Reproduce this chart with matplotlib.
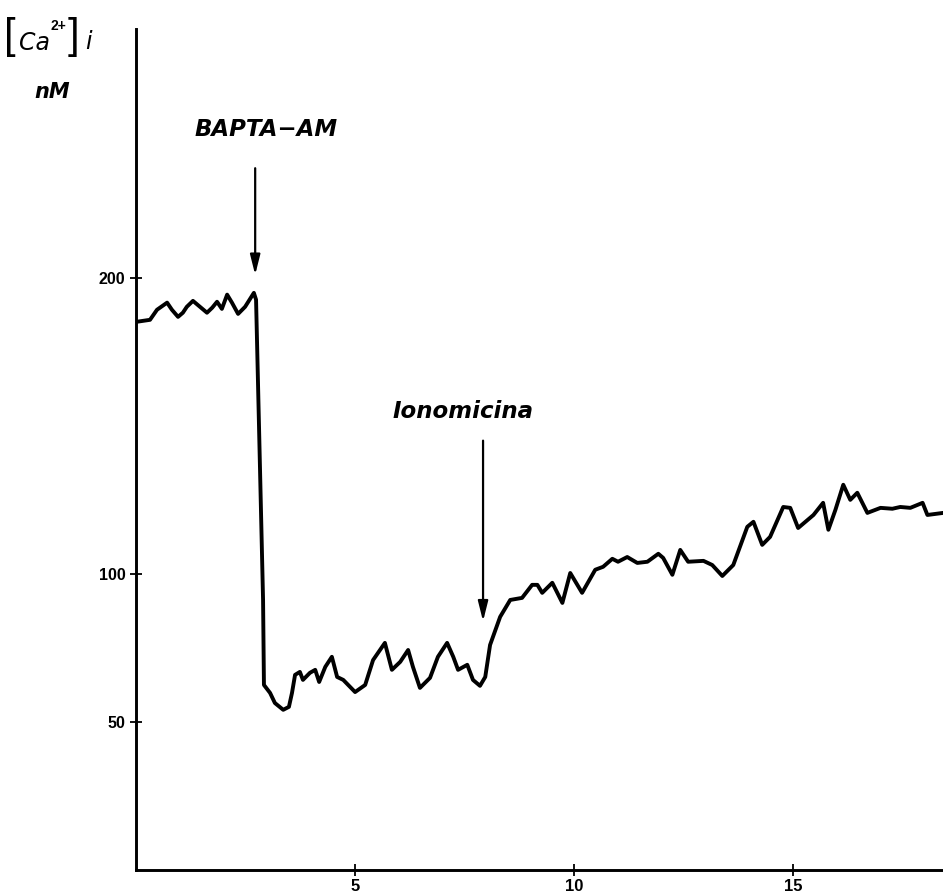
import matplotlib
matplotlib.use("Agg")
import matplotlib.pyplot as plt

plt.rcParams['font.family'] = ['Liberation Sans', 'DejaVu Sans']

# trace: time (min) and [Ca2+]i (nM)
time_min = [
    0.00, 0.32, 0.48, 0.71, 0.82, 0.96, 1.07, 1.16, 1.30, 1.46, 1.62, 1.74,
    1.85, 1.96, 2.08, 2.19, 2.33, 2.49, 2.69, 2.74, 2.90, 2.92,
    3.06, 3.17, 3.36, 3.49, 3.56, 3.63, 3.74, 3.81, 3.97, 4.09, 4.18, 4.32,
    4.47, 4.59, 4.73, 5.00, 5.23, 5.41, 5.68, 5.84, 6.03, 6.21, 6.32, 6.48,
    6.71, 6.89, 7.10, 7.24, 7.35, 7.56, 7.69, 7.85, 7.97, 8.08, 8.31, 8.54,
    8.81, 9.04, 9.16, 9.27, 9.50, 9.73, 9.91, 10.18, 10.48, 10.66, 10.87,
    11.00, 11.21, 11.44, 11.67, 11.92, 12.03, 12.24, 12.42, 12.60, 12.95,
    13.15, 13.38, 13.63, 13.95, 14.09, 14.29, 14.47, 14.77, 14.93, 15.11,
    15.46, 15.68, 15.80, 15.96, 16.14, 16.30, 16.46, 16.69, 16.99, 17.26,
    17.44, 17.67, 17.95, 18.06, 18.42,
]
ca_nm = [
    185.1, 185.8, 189.2, 191.6, 189.2, 186.8, 188.2, 190.2, 192.2, 190.2, 188.2, 189.9,
    191.9, 189.5, 194.3, 191.6, 187.8, 190.2, 194.9, 192.6, 91.2, 62.5,
    59.8, 56.4, 54.1, 55.1, 59.8, 65.9, 66.9, 64.2, 66.6, 67.6, 63.5, 68.6,
    72.0, 65.2, 64.2, 60.1, 62.5, 70.9, 76.7, 67.6, 70.3, 74.3, 68.6, 61.5,
    64.9, 72.0, 76.7, 72.0, 67.6, 69.3, 64.2, 62.2, 65.2, 76.0, 85.5, 91.2,
    91.9, 96.3, 96.3, 93.6, 97.0, 90.2, 100.3, 93.6, 101.4, 102.4, 105.1,
    104.1, 105.7, 103.7, 104.1, 106.8, 105.4, 99.7, 108.1, 104.1, 104.4,
    103.0, 99.3, 103.0, 115.9, 117.6, 109.8, 112.5, 122.6, 122.3, 115.5,
    119.9, 124.0, 114.9, 121.6, 130.1, 125.0, 127.4, 120.6, 122.3, 122.0,
    122.6, 122.3, 124.0, 119.9, 120.6,
]

x_ticks = [5, 10, 15]
y_ticks = [50, 100, 200]

# drug additions: label, time, arrow top, arrow tip, label x, label y
bapta = ("BAPTA\u2212AM", 2.72, 237, 201, 2.97, 250)
iono = ("Ionomicina", 7.92, 145, 84, 7.47, 155)

fig = plt.figure(figsize=(9.43, 8.96), dpi=100)
ax = fig.add_axes([0.1442, 0.029, 0.856, 0.9386])

ax.plot(time_min, ca_nm, color='black', lw=2.8, solid_joinstyle='round',
        solid_capstyle='round')

ax.set_xlim(0, 18.42)
ax.set_ylim(0, 284)
for s in ['top', 'right']:
    ax.spines[s].set_visible(False)
for s in ['left', 'bottom']:
    ax.spines[s].set_linewidth(2.1)

ax.set_xticks(x_ticks)
ax.set_yticks(y_ticks)
ax.tick_params(axis='both', direction='inout', length=9, width=1.3)
ax.tick_params(axis='x', labelsize=12, pad=2)
ax.tick_params(axis='y', labelsize=11.5, pad=3)
for lab in ax.get_xticklabels() + ax.get_yticklabels():
    lab.set_fontweight('bold')

for name, t, top, tip, lx, ly in [bapta, iono]:
    ax.annotate('', xy=(t, tip), xytext=(t, top),
                arrowprops=dict(arrowstyle='-|>,head_length=0.6,head_width=0.15',
                                mutation_scale=20, lw=1.6, color='black',
                                shrinkA=0, shrinkB=0))
    ax.text(lx, ly, name, fontsize=16.5, fontweight='bold', fontstyle='italic',
            family='DejaVu Sans', ha='center', va='center')

# y axis title [Ca2+]i / nM, built from pieces like the original lettering
W, H = 943, 896
fig.text(10 / W, 1 - 37 / H, '[', fontsize=30, ha='center', va='center')
fig.text(35 / W, 1 - 43 / H, 'Ca', fontsize=17, fontstyle='italic',
         family='DejaVu Sans', ha='center', va='center')
fig.text(58 / W, 1 - 26 / H, '2+', fontsize=10, fontweight='bold',
         ha='center', va='center')
fig.text(73 / W, 1 - 37 / H, ']', fontsize=30, ha='center', va='center')
fig.text(88 / W, 1 - 42 / H, 'i', fontsize=17, fontstyle='italic',
         family='DejaVu Sans', ha='center', va='center')
fig.text(52 / W, 1 - 92 / H, 'nM', fontsize=15, fontweight='bold',
         fontstyle='italic', family='DejaVu Sans', ha='center', va='center')

fig.savefig('out.png', dpi=100)
